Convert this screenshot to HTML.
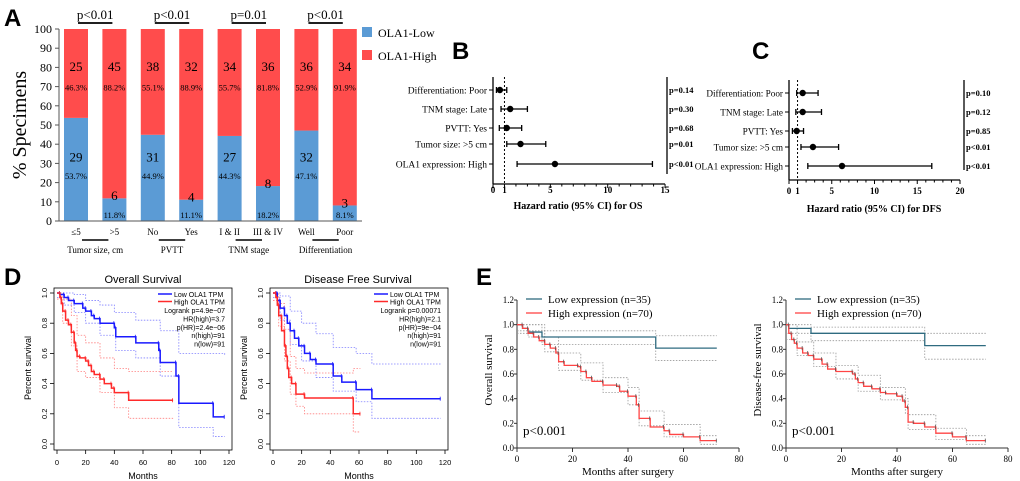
<!DOCTYPE html>
<html><head><meta charset="utf-8"><style>
body{margin:0;background:#fff;}
svg{display:block;font-family:"Liberation Serif",serif;}
.sans{font-family:"Liberation Sans",sans-serif;}
</style></head><body>
<svg id="fig" width="1020" height="481" viewBox="0 0 1020 481" xmlns="http://www.w3.org/2000/svg">
<g class="sans" font-weight="bold" font-size="24">
<text x="4" y="26">A</text>
<text x="452" y="59">B</text>
<text x="752" y="59">C</text>
<text x="4" y="285">D</text>
<text x="476" y="285">E</text>
</g>
<g id="pa"></g>
<g id="pb"></g>
<g id="pc"></g>
<g id="pd"></g>
<g id="pe"></g>
</svg>
<script>
// ---------- Panel A data ----------
const aCats = ["≤5", ">5", "No", "Yes", "I & II", "III & IV", "Well", "Poor"];
const aGroups = ["Tumor size, cm", "PVTT", "TNM stage", "Differentiation"];
const aPvals = ["p<0.01", "p<0.01", "p=0.01", "p<0.01"];
const aLowPct = [53.7, 11.8, 44.9, 11.1, 44.3, 18.2, 47.1, 8.1];
const aHighPct = [46.3, 88.2, 55.1, 88.9, 55.7, 81.8, 52.9, 91.9];
const aLowN = [29, 6, 31, 4, 27, 8, 32, 3];
const aHighN = [25, 45, 38, 32, 34, 36, 36, 34];
const aTicks = [0,10,20,30,40,50,60,70,80,90,100];

// ---------- Forest data ----------
const bLabels = ["Differentiation: Poor","TNM stage: Late","PVTT: Yes","Tumor size: >5 cm","OLA1 expression: High"];
const bHR = [0.6, 1.5, 1.2, 2.4, 5.4];
const bLo = [0.3, 0.7, 0.55, 1.2, 2.1];
const bHi = [1.2, 3.0, 2.5, 4.6, 13.9];
const bP = ["p=0.14","p=0.30","p=0.68","p=0.01","p<0.01"];
const bTicks = [0,1,5,10,15];
const cHR = [1.6, 1.6, 0.9, 2.8, 6.2];
const cLo = [0.9, 0.8, 0.4, 1.4, 2.2];
const cHi = [3.4, 3.8, 1.7, 5.8, 16.7];
const cP = ["p=0.10","p=0.12","p=0.85","p<0.01","p<0.01"];
const cTicks = [0,1,5,10,15,20];

// ---------- Panel D data ----------
const dOsLowT = [0,2,5,8,12,18,20,24,26,30,40,41,55,71,72,83,85,109,117];
const dOsLowS = [1,0.99,0.97,0.95,0.93,0.9,0.88,0.85,0.83,0.8,0.77,0.71,0.67,0.62,0.54,0.45,0.27,0.18,0.18];
const dOsHighT = [0,2,3,4,6,8,10,12,13,14,16,20,22,24,26,30,33,38,40,50,81];
const dOsHighS = [1,0.97,0.93,0.88,0.82,0.79,0.74,0.67,0.62,0.58,0.57,0.55,0.52,0.48,0.46,0.43,0.4,0.37,0.34,0.29,0.29];
const dOsLowUpT = [0,5,12,20,30,40,55,72,85,117];
const dOsLowUpS = [1,1,0.99,0.95,0.92,0.87,0.82,0.75,0.6,0.59];
const dOsLowDnT = [0,5,12,20,30,41,55,72,85,109,117];
const dOsLowDnS = [0.97,0.92,0.87,0.8,0.72,0.62,0.57,0.45,0.11,0.05,0.05];
const dOsHighUpT = [0,4,10,14,20,30,40,50,81];
const dOsHighUpS = [1,0.96,0.85,0.72,0.67,0.57,0.5,0.48,0.48];
const dOsHighDnT = [0,4,10,14,20,30,40,50,81];
const dOsHighDnS = [0.96,0.8,0.65,0.48,0.44,0.34,0.24,0.17,0.17];
const dDfsLowT = [0,3,5,8,10,12,15,18,22,26,30,42,48,58,69,117];
const dDfsLowS = [1,0.95,0.9,0.85,0.8,0.75,0.7,0.65,0.6,0.56,0.53,0.45,0.41,0.36,0.3,0.3];
const dDfsHighT = [0,2,3,4,6,8,9,10,11,13,16,22,56,61];
const dDfsHighS = [1,0.97,0.92,0.85,0.75,0.65,0.58,0.5,0.44,0.4,0.33,0.305,0.2,0.2];
const dDfsLowUpT = [0,5,12,20,30,42,58,69,117];
const dDfsLowUpS = [1,0.98,0.88,0.8,0.73,0.64,0.6,0.53,0.53];
const dDfsLowDnT = [0,5,12,20,30,42,58,69,117];
const dDfsLowDnS = [0.97,0.82,0.66,0.55,0.44,0.35,0.28,0.17,0.17];
const dDfsHighUpT = [0,4,8,12,16,22,56,61];
const dDfsHighUpS = [1,0.93,0.76,0.58,0.5,0.47,0.5,0.5];
const dDfsHighDnT = [0,4,8,12,16,22,56,61];
const dDfsHighDnS = [0.95,0.78,0.55,0.33,0.25,0.2,0.08,0.08];
const dXTicks = [0,20,40,60,80,100,120];
const dYTicks = [0,0.2,0.4,0.6,0.8,1.0];

// ---------- Panel E data ----------
const eOsLowT = [0,2,4,9,50,72];
const eOsLowS = [1,0.97,0.94,0.9,0.81,0.81];
const eOsHighT = [0,2,4,6,8,10,12,14,15,17,22,23,25,27,31,36,37,40,43,44,48,53,55,60,66,72];
const eOsHighS = [1,0.97,0.93,0.9,0.87,0.84,0.81,0.77,0.7,0.67,0.66,0.62,0.57,0.54,0.51,0.5,0.46,0.42,0.35,0.24,0.17,0.14,0.11,0.09,0.06,0.06];
const eOsLowUpT = [0,4,9,50,72];
const eOsLowUpS = [1,1,0.95,0.91,0.91];
const eOsLowDnT = [0,4,9,50,72];
const eOsLowDnS = [0.93,0.9,0.84,0.71,0.71];
const eOsHighUpT = [0,10,15,23,31,40,44,53,66,72];
const eOsHighUpS = [1,0.9,0.77,0.69,0.57,0.49,0.3,0.19,0.1,0.1];
const eOsHighDnT = [0,10,15,23,31,40,44,53,66,72];
const eOsHighDnS = [0.95,0.78,0.63,0.55,0.45,0.35,0.18,0.09,0.03,0.03];
const eDfsLowT = [0,1,9,50,72];
const eDfsLowS = [1,0.97,0.93,0.83,0.83];
const eDfsHighT = [0,1,2,3,4,6,8,10,13,15,18,24,25,26,28,31,34,36,40,42,43,44,46,50,54,60,65,72];
const eDfsHighS = [1,0.93,0.88,0.85,0.81,0.77,0.75,0.72,0.68,0.64,0.62,0.6,0.56,0.53,0.5,0.48,0.45,0.44,0.42,0.38,0.33,0.21,0.2,0.17,0.12,0.09,0.06,0.06];
const eDfsLowUpT = [0,9,50,72];
const eDfsLowUpS = [1,0.98,0.93,0.93];
const eDfsLowDnT = [0,9,50,72];
const eDfsLowDnS = [0.93,0.87,0.72,0.72];
const eDfsHighUpT = [0,4,10,18,26,34,43,44,54,65,72];
const eDfsHighUpS = [1,0.86,0.77,0.67,0.59,0.49,0.4,0.27,0.16,0.1,0.1];
const eDfsHighDnT = [0,4,10,18,26,34,43,44,54,65,72];
const eDfsHighDnS = [0.88,0.75,0.66,0.56,0.46,0.39,0.28,0.15,0.07,0.03,0.03];
const eXTicks = [0,20,40,60,80];
const eYTicks = [0,0.2,0.4,0.6,0.8,1.0,1.2];

const NS = "http://www.w3.org/2000/svg";
function mk(parent, tag, attrs, text){
  const el = document.createElementNS(NS, tag);
  for (const k in attrs) el.setAttribute(k, attrs[k]);
  if (text !== undefined) el.textContent = text;
  parent.appendChild(el);
  return el;
}

// ===== Panel A =====
(function(){
  const g = document.getElementById('pa');
  const y = v => 221 - v*1.92;
  const bx = i => 64 + i*38.4;
  const bw = 24;
  for (let i=0;i<aCats.length;i++){
    const low = mk(g,'rect',{x:bx(i),y:y(aLowPct[i]),width:bw,height:221-y(aLowPct[i]),fill:'#5b9bd5'});
    
    
    const hi = mk(g,'rect',{x:bx(i),y:y(100),width:bw,height:y(aLowPct[i])-y(100),fill:'#ff4c4c'});
    
    
    const cx = bx(i)+bw/2;
    const t1 = mk(g,'text',{x:cx,y:y(78),'font-size':13,'text-anchor':'middle'},aHighN[i]);
    
    
    const t2 = mk(g,'text',{x:cx,y:y(68),'font-size':8.5,'text-anchor':'middle'},aHighPct[i].toFixed(1)+'%');
    
    
    const lowY = aLowPct[i] > 25 ? 30 : aLowPct[i] - 2;
    const t3 = mk(g,'text',{x:cx,y:y(lowY)-2,'font-size':13,'text-anchor':'middle'},aLowN[i]);
    
    
    const t4 = mk(g,'text',{x:cx,y:aLowPct[i]>25?y(lowY-8):y(0)-3,'font-size':8.5,'text-anchor':'middle'},aLowPct[i].toFixed(1)+'%');
    
    
    const cl = mk(g,'text',{x:cx,y:235,'font-size':9,'text-anchor':'middle'},aCats[i]);
    
    
  }
  mk(g,'line',{x1:59,y1:29,x2:59,y2:221,stroke:'#555','stroke-width':1});
  mk(g,'line',{x1:59,y1:221,x2:362,y2:221,stroke:'#555','stroke-width':1});
  aTicks.forEach(t=>{
    mk(g,'line',{x1:55,y1:y(t),x2:59,y2:y(t),stroke:'#555'});
    const tl = mk(g,'text',{x:52,y:y(t)+4,'font-size':12,'text-anchor':'end'},t);
    
    
  });
  const yt = mk(g,'text',{x:0,y:0,'font-size':20,'text-anchor':'middle',transform:'translate(26,125) rotate(-90)'},'% Specimens');
  
  
  for (let j=0;j<aGroups.length;j++){
    const x0 = bx(2*j)+bw/2, x1 = bx(2*j+1)+bw/2;
    const pv = mk(g,'text',{x:(x0+x1)/2,y:19,'font-size':13,'text-anchor':'middle'},aPvals[j]);
    
    
    mk(g,'line',{x1:x0+2,y1:23,x2:x1-2,y2:23,stroke:'#000','stroke-width':1.8});
    mk(g,'line',{x1:x0+6,y1:240,x2:x1-6,y2:240,stroke:'#000','stroke-width':1.5});
    const gl = mk(g,'text',{x:(x0+x1)/2,y:253,'font-size':9,'text-anchor':'middle'},aGroups[j]);
    
    
  }
  const lg = [['#5b9bd5','OLA1-Low',33],['#ff4c4c','OLA1-High',56]];
  lg.forEach((l,k)=>{
    mk(g,'rect',{x:362,y:l[2]-6,width:10,height:10,fill:l[0]});
    const lt = mk(g,'text',{x:378,y:l[2]+4,'font-size':12},l[1]);
    
    
  });
})();

// ===== Forest =====
function forest(id, x0, scale, yAxis, yTop, rows, hr, lo, hi, pv, ticks, pX, title, titleX, tickY, titleY, lfs){
  const g = document.getElementById(id);
  const sx = v => x0 + v*scale;
  mk(g,'line',{x1:x0,y1:yTop,x2:x0,y2:yAxis,stroke:'#000','stroke-width':1.3});
  const xmax = ticks[ticks.length-1];
  mk(g,'line',{x1:x0,y1:yAxis,x2:sx(xmax),y2:yAxis,stroke:'#000','stroke-width':1.3});
  for (let v=0; v<=xmax; v++) mk(g,'line',{x1:sx(v),y1:yAxis,x2:sx(v),y2:yAxis+(ticks.includes(v)?4:2.5),stroke:'#000'});
  ticks.forEach(t=>{
    const tl = mk(g,'text',{x:sx(t),y:tickY,'font-size':9,'font-weight':'bold','text-anchor':'middle'},t);
    
    
  });
  mk(g,'line',{x1:sx(1),y1:yTop,x2:sx(1),y2:yAxis,stroke:'#000','stroke-dasharray':'2,2'});
  mk(g,'line',{x1:pX-2,y1:yTop,x2:pX-2,y2:yAxis-10,stroke:'#000','stroke-width':1.3});
  for (let i=0;i<rows.length;i++){
    const ry = rows[i];
    mk(g,'line',{x1:x0-4,y1:ry,x2:x0,y2:ry,stroke:'#000'});
    const lbl = mk(g,'text',{x:x0-6,y:ry+3.5,'font-size':lfs,'text-anchor':'end'},bLabels[i]);
    
    
    const ci = mk(g,'line',{x1:sx(lo[i]),y1:ry,x2:sx(hi[i]),y2:ry,stroke:'#000','stroke-width':1.3});
    
    
    mk(g,'line',{x1:sx(lo[i]),y1:ry-3,x2:sx(lo[i]),y2:ry+3,stroke:'#000','stroke-width':1.3});
    mk(g,'line',{x1:sx(hi[i]),y1:ry-3,x2:sx(hi[i]),y2:ry+3,stroke:'#000','stroke-width':1.3});
    const pt = mk(g,'circle',{cx:sx(hr[i]),cy:ry,r:3.2,fill:'#000'});
    
    
    const p = mk(g,'text',{x:pX,y:ry+3,'font-size':8.5,'font-weight':'bold'},pv[i]);
    
    
  }
  const tt = mk(g,'text',{x:titleX,y:titleY,'font-size':10,'font-weight':'bold','text-anchor':'middle'},title);
  
  
}
forest('pb',493,11.47,184,77,[90,109,128,144,164],bHR,bLo,bHi,bP,bTicks,669,'Hazard ratio (95% CI) for OS',578,193,209,9.5);
forest('pc',789,8.55,180,80,[93,112,131,147,166],cHR,cLo,cHi,cP,cTicks,966,'Hazard ratio (95% CI) for DFS',874,194,212,9.2);

// ===== KM helper =====
function stepPath(T,S,sx,sy){
  let d = 'M'+sx(T[0])+','+sy(S[0]);
  for (let i=1;i<T.length;i++){ d += ' H'+sx(T[i])+' V'+sy(S[i]); }
  return d;
}
function censor(g,T,S,sx,sy,col,name){
  for (let i=1;i<T.length;i++){
    const m = mk(g,'line',{x1:sx(T[i])-0.5,y1:sy(S[i-1])-2,x2:sx(T[i])-0.5,y2:sy(S[i-1])+2,stroke:col,'stroke-width':0.8});
    
    
  }
}
function ciLine(g,T,S,sx,sy,col,name){
  const c = mk(g,'path',{d:stepPath(T,S,sx,sy),fill:'none',stroke:col,'stroke-width':0.8,'stroke-dasharray':'1.5,1.5'});
  
  
}

// ===== Panel D =====
(function(){
  const g = document.getElementById('pd');
  const plots = [
    {x0:57,title:'Overall Survival',lowT:dOsLowT,lowS:dOsLowS,highT:dOsHighT,highS:dOsHighS,
     ci:[[dOsLowUpT,dOsLowUpS,'#8080ff'],[dOsLowDnT,dOsLowDnS,'#8080ff'],[dOsHighUpT,dOsHighUpS,'#ff8080'],[dOsHighDnT,dOsHighDnS,'#ff8080']],
     stats:['Logrank p=4.9e−07','HR(high)=3.7','p(HR)=2.4e−06','n(high)=91','n(low)=91'],tx:143},
    {x0:273,title:'Disease Free Survival',lowT:dDfsLowT,lowS:dDfsLowS,highT:dDfsHighT,highS:dDfsHighS,
     ci:[[dDfsLowUpT,dDfsLowUpS,'#8080ff'],[dDfsLowDnT,dDfsLowDnS,'#8080ff'],[dDfsHighUpT,dDfsHighUpS,'#ff8080'],[dDfsHighDnT,dDfsHighDnS,'#ff8080']],
     stats:['Logrank p=0.00071','HR(high)=2.1','p(HR)=9e−04','n(high)=91','n(low)=91'],tx:358}
  ];
  plots.forEach((p,k)=>{
    const sx = v => p.x0 + v*(172/120);
    const sy = v => 444 - v*151;
    const gg = mk(g,'g',{class:'sans'});
    
    
    mk(gg,'rect',{x:p.x0-3,y:288,width:178,height:162,fill:'none',stroke:'#000','stroke-width':0.8});
    const tt = mk(gg,'text',{x:p.tx,y:283,'font-size':11,'text-anchor':'middle'},p.title);
    
    
    dXTicks.forEach(t=>{
      mk(gg,'line',{x1:sx(t),y1:450,x2:sx(t),y2:454,stroke:'#000','stroke-width':0.8});
      const tl = mk(gg,'text',{x:sx(t),y:465,'font-size':7.5,'text-anchor':'middle'},t);
      
      
    });
    dYTicks.forEach(t=>{
      mk(gg,'line',{x1:p.x0-3,y1:sy(t),x2:p.x0-7,y2:sy(t),stroke:'#000','stroke-width':0.8});
      const tl = mk(gg,'text',{x:0,y:0,'font-size':7.5,'text-anchor':'middle',transform:'translate('+(p.x0-10)+','+sy(t)+') rotate(-90)'},t.toFixed(1));
      
      
    });
    const xl = mk(gg,'text',{x:p.x0+86,y:479,'font-size':9,'text-anchor':'middle'},'Months');
    
    
    const yl = mk(gg,'text',{x:0,y:0,'font-size':9,'text-anchor':'middle',transform:'translate('+(p.x0-26)+',368) rotate(-90)'},'Percent survival');
    
    
    p.ci.forEach((c,i)=>ciLine(gg,c[0],c[1],sx,sy,c[2],'ci-band-'+i));
    const lowL = mk(gg,'path',{d:stepPath(p.lowT,p.lowS,sx,sy),fill:'none',stroke:'#1a1aff','stroke-width':1.5});
    
    
    const hiL = mk(gg,'path',{d:stepPath(p.highT,p.highS,sx,sy),fill:'none',stroke:'#ff2a2a','stroke-width':1.5});
    
    
    censor(gg,p.lowT,p.lowS,sx,sy,'#1a1aff','low');
    censor(gg,p.highT,p.highS,sx,sy,'#ff2a2a','high');
    const lx = p.x0+101;
    mk(gg,'line',{x1:lx,y1:294,x2:lx+14,y2:294,stroke:'#1a1aff','stroke-width':1.5});
    mk(gg,'line',{x1:lx,y1:301.5,x2:lx+14,y2:301.5,stroke:'#ff2a2a','stroke-width':1.5});
    const l1 = mk(gg,'text',{x:lx+16,y:297,'font-size':7},'Low OLA1 TPM');
    
    
    const l2 = mk(gg,'text',{x:lx+16,y:304.5,'font-size':7},'High OLA1 TPM');
    
    
    p.stats.forEach((s,i)=>{
      const st = mk(gg,'text',{x:p.x0+168,y:313+i*8.4,'font-size':7,'text-anchor':'end'},s);
      
      
    });
  });
})();

// ===== Panel E =====
(function(){
  const g = document.getElementById('pe');
  const plots = [
    {x0:517,ylab:'Overall survival',lowT:eOsLowT,lowS:eOsLowS,highT:eOsHighT,highS:eOsHighS,
     ci:[[eOsLowUpT,eOsLowUpS],[eOsLowDnT,eOsLowDnS],[eOsHighUpT,eOsHighUpS],[eOsHighDnT,eOsHighDnS]]},
    {x0:786,ylab:'Disease-free survival',lowT:eDfsLowT,lowS:eDfsLowS,highT:eDfsHighT,highS:eDfsHighS,
     ci:[[eDfsLowUpT,eDfsLowUpS],[eDfsLowDnT,eDfsLowDnS],[eDfsHighUpT,eDfsHighUpS],[eDfsHighDnT,eDfsHighDnS]]}
  ];
  plots.forEach((p,k)=>{
    const sx = v => p.x0 + v*(222/80);
    const sy = v => 448 - v*(148/1.2);
    const gg = mk(g,'g',{});
    
    
    mk(gg,'line',{x1:p.x0,y1:sy(1.2),x2:p.x0,y2:448,stroke:'#333','stroke-width':1});
    mk(gg,'line',{x1:p.x0,y1:448,x2:sx(80),y2:448,stroke:'#333','stroke-width':1});
    eXTicks.forEach(t=>{
      mk(gg,'line',{x1:sx(t),y1:448,x2:sx(t),y2:452,stroke:'#333'});
      const tl = mk(gg,'text',{x:sx(t),y:462,'font-size':9,'text-anchor':'middle'},t);
      
      
    });
    eYTicks.forEach(t=>{
      mk(gg,'line',{x1:p.x0-3,y1:sy(t),x2:p.x0,y2:sy(t),stroke:'#333'});
      const tl = mk(gg,'text',{x:p.x0-3,y:sy(t)+3,'font-size':9,'text-anchor':'end'},t.toFixed(1));
      
      
    });
    const xl = mk(gg,'text',{x:p.x0+111,y:475,'font-size':11,'text-anchor':'middle'},'Months after surgery');
    
    
    const yl = mk(gg,'text',{x:0,y:0,'font-size':11,'text-anchor':'middle',transform:'translate('+(p.x0-25)+',370) rotate(-90)'},p.ylab);
    
    
    p.ci.forEach((c,i)=>ciLine(gg,c[0],c[1],sx,sy,'#999','ci-band-'+i));
    const lowL = mk(gg,'path',{d:stepPath(p.lowT,p.lowS,sx,sy),fill:'none',stroke:'#2f6b80','stroke-width':1.3});
    
    
    const hiL = mk(gg,'path',{d:stepPath(p.highT,p.highS,sx,sy),fill:'none',stroke:'#ff4444','stroke-width':1.3});
    
    
    censor(gg,p.highT,p.highS,sx,sy,'#555','high');
    const lx = p.x0+9;
    mk(gg,'line',{x1:lx,y1:299,x2:lx+16,y2:299,stroke:'#2f6b80','stroke-width':1.3});
    mk(gg,'line',{x1:lx,y1:313,x2:lx+16,y2:313,stroke:'#ff4444','stroke-width':1.3});
    const l1 = mk(gg,'text',{x:lx+22,y:303,'font-size':11},'Low expression (n=35)');
    
    
    const l2 = mk(gg,'text',{x:lx+22,y:317,'font-size':11},'High expression (n=70)');
    
    
    const pv = mk(gg,'text',{x:p.x0+6,y:435,'font-size':13},'p<0.001');
    
    
  });
})();
</script>
</body></html>
